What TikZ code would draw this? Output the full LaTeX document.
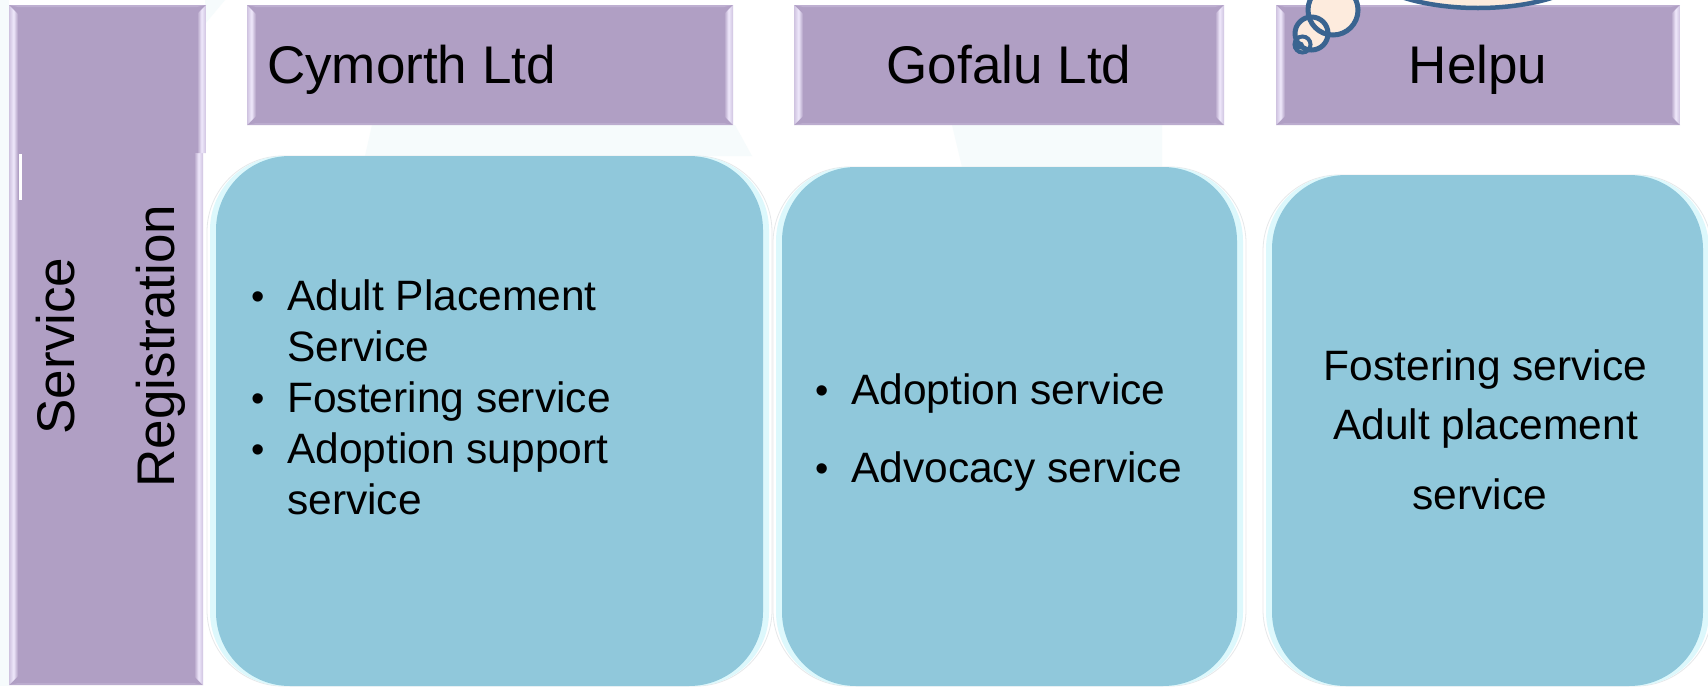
\documentclass[tikz,border=0pt]{standalone}
\usepackage{fontspec}
\setmainfont{Liberation Sans}
\definecolor{barpurple}{HTML}{B09FC4}
\definecolor{bevelmid}{HTML}{EFE8FB}
\definecolor{beveledge}{HTML}{CFC3E0}
\definecolor{boxblue}{HTML}{90C8DB}
\definecolor{boxrim}{HTML}{DDF8FC}
\definecolor{boxline}{HTML}{E6E8EA}
\definecolor{paleback}{HTML}{F6FBFC}
\definecolor{bubbleline}{HTML}{3A6490}
\definecolor{bubblefill}{HTML}{FDEBDD}
\newcommand{\bitem}{\leavevmode\llap{{\fontsize{38}{38}\selectfont\raisebox{1pt}{\textbullet}}\hspace{22pt}}}
% purple bevelled bar: x0, y0, x1, y1
\newcommand{\purplebar}[4]{%
  \fill[barpurple] (#1,#2) rectangle (#3,#4);
  \fill[beveledge!45!barpurple] (#1,#2) -- (#3,#2) -- ({#3-9},{#2+2}) -- ({#1+9},{#2+2}) -- cycle;
  \fill[beveledge!35!barpurple] (#1,#4) -- (#3,#4) -- ({#3-9},{#4-2}) -- ({#1+9},{#4-2}) -- cycle;
  \shade[left color=beveledge,right color=barpurple,middle color=bevelmid]
    (#1,#2) -- ({#1+9},{#2+9}) -- ({#1+9},{#4-9}) -- (#1,#4) -- cycle;
  \shade[left color=barpurple,right color=beveledge,middle color=bevelmid]
    (#3,#2) -- ({#3-9},{#2+9}) -- ({#3-9},{#4-9}) -- (#3,#4) -- cycle;
}
% blue box with light side rims: x0, y0, x1, y1
\newcommand{\bluebox}[4]{%
  \fill[white,draw=boxline,line width=0.8pt,rounded corners=76pt] (#1,#2) rectangle (#3,#4);
  \fill[boxrim,rounded corners=74pt] ({#1+3},#2) rectangle ({#3-3},#4);
  \fill[boxblue,rounded corners=74pt] ({#1+9},#2) rectangle ({#3-9},#4);
}
\tikzset{
  x=1pt,y=-1pt,
  title/.style={font=\fontsize{53}{60}\selectfont,inner sep=0pt,anchor=base},
  body/.style={font=\fontsize{42.5}{51}\selectfont,inner sep=0pt,align=left,anchor=base west},
  bubble/.style={draw=bubbleline,line width=5pt},
}
\begin{document}
\begin{tikzpicture}
\useasboundingbox (0,0) rectangle (1708,686);
\fill[white] (0,0) rectangle (1708,686);
% faint background
\fill[paleback] (0,0) rectangle (9,686);
\fill[paleback] (205,0) -- (225,0) -- (205,24) -- cycle;
\fill[paleback] (372,125) -- (735,125) -- (752,156) -- (365,156) -- cycle;
\fill[paleback] (952,125) -- (1162,125) -- (1162,167) -- (962,167) -- cycle;
% left bar
\purplebar{9}{5}{203}{685}
\fill[barpurple] (190,5) rectangle (206,153);
\fill[beveledge!45!barpurple] (180,5) -- (206,5) -- (197,7) -- (180,7) -- cycle;
\shade[left color=barpurple,right color=beveledge,middle color=bevelmid]
  (206,5) -- (197,14) -- (197,153) -- (206,153) -- cycle;
\fill[white] (19,154) rectangle (22,200);
% header bars
\purplebar{247}{5}{733}{125}
\purplebar{794}{5}{1224}{125}
\purplebar{1276}{5}{1680}{125}
% blue boxes
\bluebox{207}{156}{772}{686}
\bluebox{773}{167}{1246}{686}
\bluebox{1263}{175}{1712}{686}
% thought bubble
\fill[bubblefill,draw=bubbleline,line width=4.5pt] (1478,-40) ellipse [x radius=120,y radius=48];
\fill[bubblefill] (1333,10) circle [radius=25];
\fill[bubblefill] (1311.5,33.5) circle [radius=16.5];
\fill[bubblefill] (1302.5,44.5) circle [radius=8];
\draw[bubble] (1333,10) circle [radius=25];
\draw[bubble] (1311.5,33.5) circle [radius=16.5];
\draw[bubbleline,line width=4pt] (1302.5,44.5) circle [radius=8];
\draw[bubbleline,line width=2pt] (1300,45.5) circle [radius=3];
% texts
\node[font=\fontsize{53}{100}\selectfont,inner sep=0pt,align=center,rotate=90,anchor=base] (bar) at (174.5,346) {Service\\Registration};
\node[title,anchor=base west] (cymorth) at (267,83) {Cymorth Ltd};
\node[title] (gofalu) at (1009,83) {Gofalu Ltd};
\node[title] (helpu) at (1478,83) {Helpu};
\node[body] (cymorthlist) at (287,514) {\bitem Adult Placement\\Service\\\bitem Fostering service\\\bitem Adoption support\\service};
\node[body,font=\fontsize{42.5}{78}\selectfont] (gofalulist) at (851,482) {\bitem Adoption service\\\bitem Advocacy service};
\node[body,align=center,font=\fontsize{42.5}{59}\selectfont,anchor=base] (helpulist) at (1485.5,509) {Fostering service\\Adult placement\\[11pt]service\kern 11pt};
\end{tikzpicture}
\end{document}
